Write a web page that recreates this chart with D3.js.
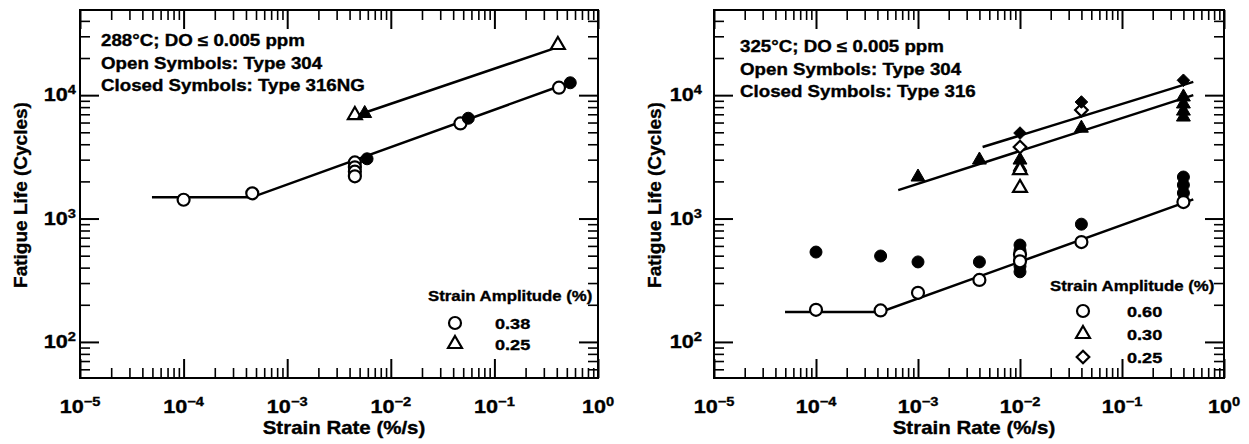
<!DOCTYPE html>
<html>
<head>
<meta charset="utf-8">
<script src="https://cdn.jsdelivr.net/npm/d3@7"></script>
<style>
  html, body { margin: 0; padding: 0; background: #fff; }
  svg { display: block; }
  text { font-family: "Liberation Sans", Arial, Helvetica, sans-serif; font-weight: bold; fill: #000; stroke: #000; stroke-width: 0.35px; }
</style>
</head>
<body>
<svg id="chart" width="1249" height="444"></svg>
<script>
// ---------- Data: 288 °C, DO <= 0.005 ppm (Type 304 open, Type 316NG closed) ----------
const a_open038Rate   = [1e-4, 4.6e-4, 4.5e-3, 4.5e-3, 4.5e-3, 4.5e-3, 4.7e-2, 0.42];
const a_open038Life   = [1420, 1600, 2850, 2600, 2400, 2200, 5900, 11500];
const a_closed038Rate = [5.9e-3, 5.6e-2, 0.54];
const a_closed038Life = [3050, 6500, 12600];
const a_open025Rate   = [4.5e-3, 0.41];
const a_open025Life   = [6900, 25500];
const a_closed025Rate = [5.6e-3];
const a_closed025Life = [7100];
const a_fit038Rate    = [4.95e-5, 4.6e-4, 0.51];
const a_fit038Life    = [1490, 1490, 12500];
const a_fit025Rate    = [4.8e-3, 0.41];
const a_fit025Life    = [6900, 24500];

// ---------- Data: 325 °C, DO <= 0.005 ppm (Type 304 open, Type 316 closed) ----------
const b_open060Rate   = [1e-4, 4.3e-4, 1e-3, 4e-3, 1e-2, 1e-2, 4e-2, 0.4];
const b_open060Life   = [182, 180, 250, 318, 510, 450, 645, 1360];
const b_closed060Rate = [1e-4, 4.3e-4, 1e-3, 4e-3, 1e-2, 1e-2, 1e-2, 1e-2, 1e-2, 4e-2, 0.4, 0.4, 0.4];
const b_closed060Life = [535, 497, 445, 445, 610, 550, 480, 410, 370, 900, 2170, 1870, 1610];
const b_open030Rate   = [1e-2, 1e-2];
const b_open030Life   = [2470, 1770];
const b_closed030Rate = [1e-3, 4e-3, 1e-2, 1e-2, 4e-2, 0.4, 0.4, 0.4, 0.4];
const b_closed030Life = [2170, 2980, 2980, 2610, 5400, 9670, 8480, 7430, 6650];
const b_open025Rate   = [1e-2, 4e-2];
const b_open025Life   = [3800, 7570];
const b_closed025Rate = [1e-2, 4e-2, 0.4];
const b_closed025Life = [4930, 8800, 13200];
const b_fit060Rate    = [4.97e-5, 4.3e-4, 0.5];
const b_fit060Life    = [175, 175, 1430];
const b_fit030Rate    = [6.4e-4, 0.5];
const b_fit030Life    = [1700, 10000];
const b_fit025Rate    = [4.3e-3, 0.5];
const b_fit025Life    = [3800, 12800];

// ---------- Axis settings ----------
const rateDomain = [1e-5, 1];
const lifeDomain = [51, 49000];
const xTickExps = [-5, -4, -3, -2, -1, 0];
const yTickExps = [2, 3, 4];
const xTitle = "Strain Rate (%/s)";
const yTitle = "Fatigue Life (Cycles)";
const legendTitle = "Strain Amplitude (%)";
const a_notes = ["288°C; DO ≤ 0.005 ppm", "Open Symbols: Type 304", "Closed Symbols: Type 316NG"];
const b_notes = ["325°C; DO ≤ 0.005 ppm", "Open Symbols: Type 304", "Closed Symbols: Type 316"];
const a_legendLabels = ["0.38", "0.25"];
const b_legendLabels = ["0.60", "0.30", "0.25"];

const SX = 1.17; // horizontal stretch of the lettering

const svg = d3.select("#chart");

function stext(g, x, y, anchor, size, str, sx = SX) {
  return g.append("text")
    .attr("transform", `translate(${x},${y}) scale(${sx},1)`)
    .attr("text-anchor", anchor)
    .style("font-size", size + "px")
    .text(str);
}

function powLabel(g, x, y, anchor, exp) {
  const t = g.append("text")
    .attr("transform", `translate(${x},${y}) scale(${SX},1)`)
    .attr("text-anchor", anchor)
    .style("font-size", "18.5px");
  t.append("tspan").text("10");
  t.append("tspan").attr("dy", -7).style("font-size", "12.5px")
    .text(exp < 0 ? "\u2212" + Math.abs(exp) : String(exp));
  return t;
}

const diamondPath = (s) => `M0,${-s}L${s},0L0,${s}L${-s},0Z`;

function shapePath(shape) {
  if (shape === "circle") return d3.symbol(d3.symbolCircle, 113)();
  if (shape === "triangle") return d3.symbol(d3.symbolTriangle, 84)();
  return diamondPath(6.3);
}

function markers(g, x, y, rates, lives, shape, filled) {
  const pts = rates.map((r, i) => [r, lives[i]]);
  g.append("g").selectAll("path").data(pts).join("path")
    .attr("transform", d => `translate(${x(d[0])},${y(d[1])})`)
    .attr("d", shapePath(shape))
    .attr("fill", filled ? "#000" : "#fff")
    .attr("stroke", "#000")
    .attr("stroke-width", filled ? 1 : 2.2);
}

function fitLine(g, x, y, rates, lives) {
  const pts = rates.map((r, i) => [r, lives[i]]);
  g.append("path").datum(pts)
    .attr("fill", "none").attr("stroke", "#000").attr("stroke-width", 2.5)
    .attr("d", d3.line().x(d => x(d[0])).y(d => y(d[1])));
}

function panel(p) {
  const g = svg.append("g");
  const x = d3.scaleLog().domain(rateDomain).range([p.left, p.right]);
  const y = d3.scaleLog().domain(lifeDomain).range([p.bottom, p.top]);

  const isMajor = v => Math.abs(Math.log10(v) - Math.round(Math.log10(v))) < 1e-9;
  const xMinor = x.ticks().filter(v => !isMajor(v));
  const xMajor = xTickExps.map(e => Math.pow(10, e));
  const yMinor = y.ticks().filter(v => !isMajor(v));
  const yMajor = yTickExps.map(e => Math.pow(10, e));

  const tickStyle = (sel, w) => {
    sel.select(".domain").remove();
    sel.selectAll(".tick line").attr("stroke", "#000").attr("stroke-width", w);
    sel.selectAll(".tick text").remove();
  };
  const axisSet = [
    [d3.axisBottom(x), `translate(0,${p.bottom})`, xMinor, xMajor],
    [d3.axisTop(x), `translate(0,${p.top})`, xMinor, xMajor],
    [d3.axisLeft(y), `translate(${p.left},0)`, yMinor, yMajor],
    [d3.axisRight(y), `translate(${p.right},0)`, yMinor, yMajor]
  ];
  axisSet.forEach(([ax, tr, minor, major]) => {
    g.append("g").attr("transform", tr)
      .call(ax.tickValues(minor).tickSize(-10).tickFormat(""))
      .call(s => tickStyle(s, 1.6));
    g.append("g").attr("transform", tr)
      .call(ax.tickValues(major).tickSize(-19).tickFormat(""))
      .call(s => tickStyle(s, 2));
  });

  // frame
  g.append("rect")
    .attr("x", p.left).attr("y", p.top)
    .attr("width", p.right - p.left).attr("height", p.bottom - p.top)
    .attr("fill", "none").attr("stroke", "#000").attr("stroke-width", 2);

  // tick labels
  xMajor.forEach((v, i) => powLabel(g, x(v), p.bottom + 35, "middle", xTickExps[i]));
  yMajor.forEach((v, i) => powLabel(g, p.left - p.yLabelGap, y(v) + 6, "end", yTickExps[i]));

  // axis titles
  stext(g, (p.left + p.right) / 2 + 5, 434, "middle", 17.5, xTitle);
  g.append("text")
    .attr("transform", `translate(${p.yTitleX},195) rotate(-90)`)
    .attr("text-anchor", "middle")
    .style("font-size", "19px")
    .text(yTitle);

  // condition notes
  p.notes.forEach((s, i) => stext(g, p.noteX, p.noteY + i * 22.5, "start", 16, s));

  const plot = g.append("g");
  p.draw(plot, x, y);

  // legend
  stext(g, p.legend.titleX, p.legend.titleY, "start", 15, legendTitle, 1.12);
  p.legend.items.forEach((it, i) => {
    g.append("path")
      .attr("transform", `translate(${p.legend.symX},${it.y})`)
      .attr("d", shapePath(it.shape))
      .attr("fill", "#fff").attr("stroke", "#000").attr("stroke-width", 2.2);
    stext(g, p.legend.textX, it.y + 6, "start", 15.5, it.label);
  });
}

panel({
  left: 80, right: 598, top: 10, bottom: 378,
  yLabelGap: 4, yTitleX: 27,
  notes: a_notes, noteX: 101, noteY: 46,
  legend: {
    titleX: 428, titleY: 301, symX: 455, textX: 495,
    items: [
      { shape: "circle", y: 323, label: a_legendLabels[0] },
      { shape: "triangle", y: 344, label: a_legendLabels[1] }
    ]
  },
  draw(g, x, y) {
    fitLine(g, x, y, a_fit038Rate, a_fit038Life);
    fitLine(g, x, y, a_fit025Rate, a_fit025Life);
    markers(g, x, y, a_open038Rate, a_open038Life, "circle", false);
    markers(g, x, y, a_open025Rate, a_open025Life, "triangle", false);
    markers(g, x, y, a_closed038Rate, a_closed038Life, "circle", true);
    markers(g, x, y, a_closed025Rate, a_closed025Life, "triangle", true);
  }
});

panel({
  left: 714, right: 1224, top: 10, bottom: 378,
  yLabelGap: 12, yTitleX: 661,
  notes: b_notes, noteX: 740, noteY: 52,
  legend: {
    titleX: 1050, titleY: 291, symX: 1083, textX: 1127,
    items: [
      { shape: "circle", y: 311, label: b_legendLabels[0] },
      { shape: "triangle", y: 334, label: b_legendLabels[1] },
      { shape: "diamond", y: 357, label: b_legendLabels[2] }
    ]
  },
  draw(g, x, y) {
    fitLine(g, x, y, b_fit060Rate, b_fit060Life);
    fitLine(g, x, y, b_fit030Rate, b_fit030Life);
    fitLine(g, x, y, b_fit025Rate, b_fit025Life);
    markers(g, x, y, b_closed060Rate, b_closed060Life, "circle", true);
    markers(g, x, y, b_open060Rate, b_open060Life, "circle", false);
    markers(g, x, y, b_closed030Rate, b_closed030Life, "triangle", true);
    markers(g, x, y, b_open030Rate, b_open030Life, "triangle", false);
    markers(g, x, y, b_open025Rate, b_open025Life, "diamond", false);
    markers(g, x, y, b_closed025Rate, b_closed025Life, "diamond", true);
  }
});
</script>
</body>
</html>
